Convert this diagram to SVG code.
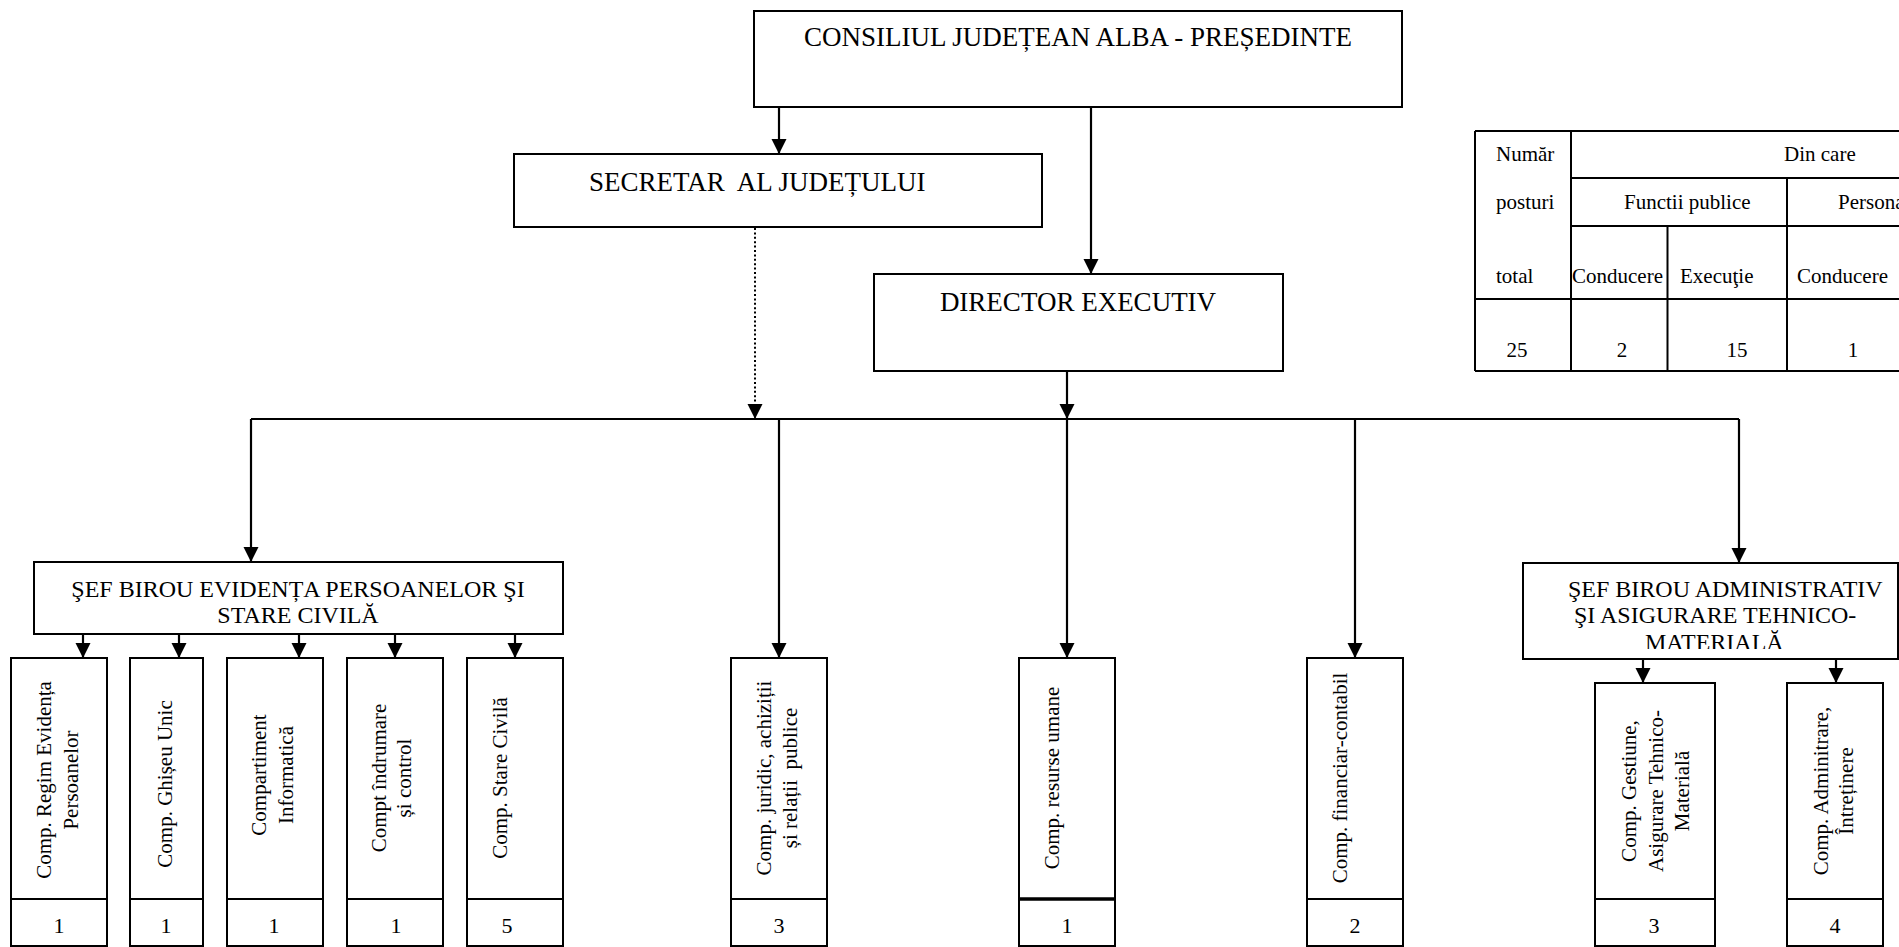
<svg xmlns="http://www.w3.org/2000/svg" width="1899" height="947" viewBox="0 0 1899 947">
<style>
text{font-family:"Liberation Serif","Times New Roman",serif;fill:#000}
.box{fill:#fff;stroke:#000;stroke-width:2}
.ln{fill:none;stroke:#000;stroke-width:2}
.con{fill:none;stroke:#000;stroke-width:2.2;marker-end:url(#ah)}
.dot{fill:none;stroke:#000;stroke-width:2;stroke-dasharray:2 2.4;marker-end:url(#ah)}
.big{font-size:27px}
.mid{font-size:24px}
.sm{font-size:21px}
.num{font-size:22px}
.tb{font-size:21px}
</style>
<defs>
<marker id="ah" markerUnits="userSpaceOnUse" markerWidth="16" markerHeight="16" viewBox="0 0 16 16" refX="15" refY="8" orient="auto">
<path d="M0,0.5 L15,8 L0,15.5 z" fill="#000"/>
</marker>
<clipPath id="clipAdm"><rect x="1523" y="563" width="376" height="86"/></clipPath>
</defs>
<rect width="1899" height="947" fill="#fff"/>

<g id="connectors">
<path class="con" d="M779,107 V154"/>
<path class="con" d="M1091,107 V274"/>
<path class="dot" d="M755,228 V419"/>
<path class="con" d="M1067,371 V419"/>
<path class="ln" d="M251,419 H1739"/>
<path class="con" d="M251,419 V562"/>
<path class="con" d="M779,419 V658"/>
<path class="con" d="M1067,419 V658"/>
<path class="con" d="M1355,419 V658"/>
<path class="con" d="M1739,419 V563"/>
<path class="con" d="M83,634 V658"/>
<path class="con" d="M179,634 V658"/>
<path class="con" d="M299,634 V658"/>
<path class="con" d="M395,634 V658"/>
<path class="con" d="M515,634 V658"/>
<path class="con" d="M1643,659 V683"/>
<path class="con" d="M1836,659 V683"/>
</g>

<g id="n-consiliul">
<rect class="box" x="754" y="11" width="648" height="96"/>
<text class="big" x="1078" y="46" text-anchor="middle">CONSILIUL JUDEȚEAN ALBA - PREȘEDINTE</text>
</g>

<g id="n-secretar">
<rect class="box" x="514" y="154" width="528" height="73"/>
<text class="big" x="589" y="191" xml:space="preserve">SECRETAR  AL JUDEȚULUI</text>
</g>

<g id="n-director">
<rect class="box" x="874" y="274" width="409" height="97"/>
<text class="big" x="1078" y="311" text-anchor="middle">DIRECTOR EXECUTIV</text>
</g>

<g id="n-sef-evidenta">
<rect class="box" x="34" y="562" width="529" height="72"/>
<text class="mid" x="298" y="597" text-anchor="middle">ŞEF BIROU EVIDENȚA PERSOANELOR ŞI</text>
<text class="mid" x="298" y="623" text-anchor="middle">STARE CIVILĂ</text>
</g>

<g id="n-sef-admin">
<rect class="box" x="1523" y="563" width="375" height="96"/>
<g clip-path="url(#clipAdm)">
<text class="mid" x="1568" y="597">ŞEF BIROU ADMINISTRATIV</text>
<text class="mid" x="1574" y="623">ŞI ASIGURARE TEHNICO-</text>
<text class="mid" x="1645" y="650">MATERIALĂ</text>
</g>
</g>

<g id="n-regim">
<rect class="box" x="11" y="658" width="96" height="241"/>
<rect class="box" x="11" y="899" width="96" height="47"/>
<text class="sm" transform="translate(51,780) rotate(-90)" text-anchor="middle">Comp. Regim Evidența<tspan x="0" dy="27">Persoanelor</tspan></text>
<text class="num" x="59" y="933" text-anchor="middle">1</text>
</g>

<g id="n-ghiseu">
<rect class="box" x="130" y="658" width="73" height="241"/>
<rect class="box" x="130" y="899" width="73" height="47"/>
<text class="sm" transform="translate(172,784) rotate(-90)" text-anchor="middle">Comp. Ghișeu Unic</text>
<text class="num" x="166" y="933" text-anchor="middle">1</text>
</g>

<g id="n-informatica">
<rect class="box" x="227" y="658" width="96" height="241"/>
<rect class="box" x="227" y="899" width="96" height="47"/>
<text class="sm" transform="translate(266,775) rotate(-90)" text-anchor="middle">Compartiment<tspan x="0" dy="27">Informatică</tspan></text>
<text class="num" x="274" y="933" text-anchor="middle">1</text>
</g>

<g id="n-indrumare">
<rect class="box" x="347" y="658" width="96" height="241"/>
<rect class="box" x="347" y="899" width="96" height="47"/>
<text class="sm" transform="translate(386,778) rotate(-90)" text-anchor="middle">Compt îndrumare<tspan x="0" dy="25">și control</tspan></text>
<text class="num" x="396" y="933" text-anchor="middle">1</text>
</g>

<g id="n-starecivila">
<rect class="box" x="467" y="658" width="96" height="241"/>
<rect class="box" x="467" y="899" width="96" height="47"/>
<text class="sm" transform="translate(507,778) rotate(-90)" text-anchor="middle">Comp. Stare Civilă</text>
<text class="num" x="507" y="933" text-anchor="middle">5</text>
</g>

<g id="n-juridic">
<rect class="box" x="731" y="658" width="96" height="241"/>
<rect class="box" x="731" y="899" width="96" height="47"/>
<text class="sm" transform="translate(771,778) rotate(-90)" text-anchor="middle" xml:space="preserve">Comp. juridic, achiziții<tspan x="0" dy="26">și relații  publice</tspan></text>
<text class="num" x="779" y="933" text-anchor="middle">3</text>
</g>

<g id="n-resurse">
<rect class="box" x="1019" y="658" width="96" height="241"/>
<rect class="box" x="1019" y="899" width="96" height="47" style="stroke-width:2"/>
<path class="ln" d="M1019,899 H1115" style="stroke-width:3.5"/>
<text class="sm" transform="translate(1059,778) rotate(-90)" text-anchor="middle">Comp. resurse umane</text>
<text class="num" x="1067" y="933" text-anchor="middle">1</text>
</g>

<g id="n-financiar">
<rect class="box" x="1307" y="658" width="96" height="241"/>
<rect class="box" x="1307" y="899" width="96" height="47"/>
<text class="sm" transform="translate(1347,778) rotate(-90)" text-anchor="middle">Comp. financiar-contabil</text>
<text class="num" x="1355" y="933" text-anchor="middle">2</text>
</g>

<g id="n-gestiune">
<rect class="box" x="1595" y="683" width="120" height="216"/>
<rect class="box" x="1595" y="899" width="120" height="47"/>
<text class="sm" transform="translate(1636,791) rotate(-90)" text-anchor="middle">Comp. Gestiune,<tspan x="0" dy="27">Asigurare Tehnico-</tspan><tspan x="0" dy="26">Materială</tspan></text>
<text class="num" x="1654" y="933" text-anchor="middle">3</text>
</g>

<g id="n-adminitrare">
<rect class="box" x="1787" y="683" width="96" height="216"/>
<rect class="box" x="1787" y="899" width="96" height="47"/>
<text class="sm" transform="translate(1828,791) rotate(-90)" text-anchor="middle">Comp. Adminitrare,<tspan x="0" dy="25">Întreținere</tspan></text>
<text class="num" x="1835" y="933" text-anchor="middle">4</text>
</g>

<g id="table">
<path class="ln" d="M1475,131 H1899 M1475,371 H1899 M1475,131 V371 M1571,131 V371 M1571,178 H1899 M1571,226 H1899 M1475,299 H1899 M1667.5,226 V371 M1787,178 V371"/>
<text class="tb" x="1496" y="161">Număr</text>
<text class="tb" x="1784" y="161">Din care</text>
<text class="tb" x="1496" y="209">posturi</text>
<text class="tb" x="1624" y="209">Functii publice</text>
<text class="tb" x="1838" y="209">Personal</text>
<text class="tb" x="1496" y="283">total</text>
<text class="tb" x="1572" y="283">Conducere</text>
<text class="tb" x="1680" y="283">Execuţie</text>
<text class="tb" x="1797" y="283">Conducere</text>
<text class="tb" x="1517" y="357" text-anchor="middle">25</text>
<text class="tb" x="1622" y="357" text-anchor="middle">2</text>
<text class="tb" x="1737" y="357" text-anchor="middle">15</text>
<text class="tb" x="1853" y="357" text-anchor="middle">1</text>
</g>
</svg>
